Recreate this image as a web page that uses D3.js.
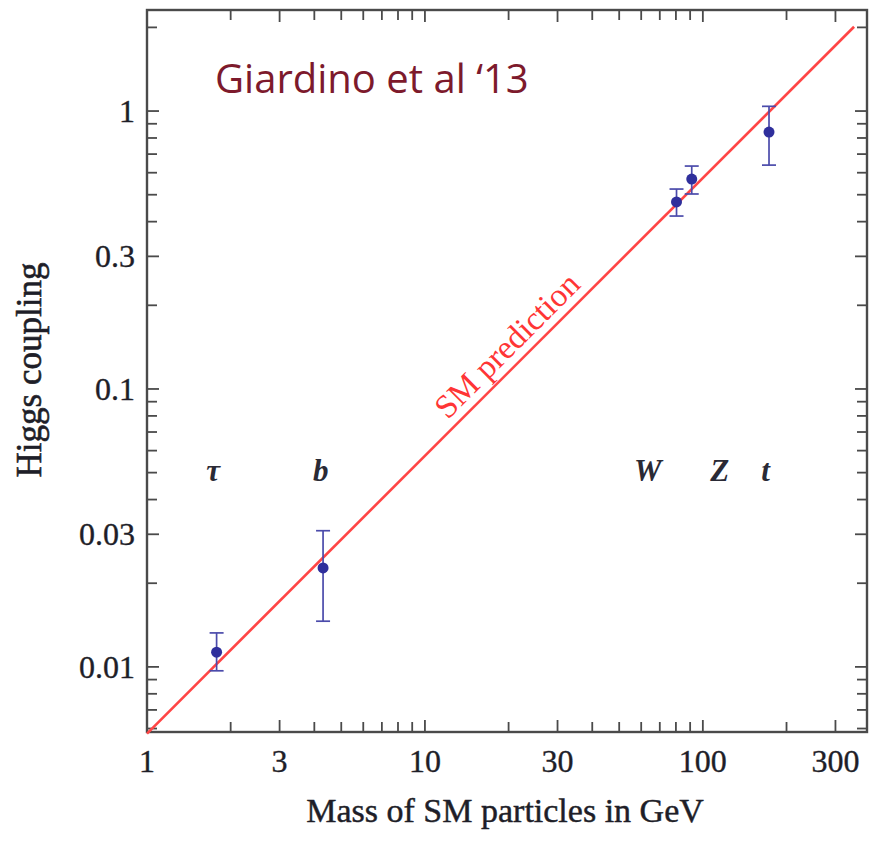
<!DOCTYPE html>
<html><head><meta charset="utf-8">
<script src="https://cdn.jsdelivr.net/npm/d3@7"></script>
<style>body{margin:0;background:#fff;} svg{display:block;}</style>
</head><body>
<script>
// ---- data ----
const particles = ["τ", "b", "W", "Z", "t"];
const masses = [1.78, 4.3, 80.4, 91.2, 173];
const coupling = [0.0113, 0.0227, 0.471, 0.569, 0.840];
const errLow = [0.00968, 0.0146, 0.419, 0.503, 0.639];
const errHigh = [0.01325, 0.0309, 0.524, 0.634, 1.04];
const labelMass = [1.73, 4.22, 63.4, 115, 168];
const labelCoupling = 0.0467;
const smMass = [1, 350];
const smCoupling = [0.00575, 2.01];
const xTickLabels = [1, 3, 10, 30, 100, 300];
const yTickLabels = [0.01, 0.03, 0.1, 0.3, 1];
const xDomain = [1, 389.6];
const yDomain = [0.00583, 2.31];

const W = 874, H = 843;
const m = {left:147, right:7, top:10, bottom:111};
const svg = d3.select("body").append("svg").attr("width", W).attr("height", H);

const x = d3.scaleLog().domain(xDomain).range([m.left, W - m.right]);
const y = d3.scaleLog().domain(yDomain).range([H - m.bottom, m.top]);
const x0 = m.left, x1 = W - m.right, y0 = H - m.bottom, y1 = m.top;

function minorTicks(dom){
  const out = [];
  for (let d = -3; d <= 3; d++) for (let k = 1; k <= 9; k++) {
    const v = +(k * Math.pow(10, d)).toPrecision(6);
    if (v >= dom[0] * 1.0001 && v <= dom[1] / 1.0001) out.push(v);
  }
  return out;
}
const xTicks = minorTicks(xDomain), yTicks = minorTicks(yDomain);
const axisCol = "#4a4a4a";
const isMajor = (v, arr) => arr.some(a => Math.abs(a - v) / a < 1e-6);

const tg = svg.append("g").attr("stroke", axisCol).attr("stroke-width", 1.8);
xTicks.forEach(v => {
  const L = isMajor(v, xTickLabels) ? 12 : 10;
  tg.append("line").attr("x1", x(v)).attr("x2", x(v)).attr("y1", y0).attr("y2", y0 - L);
  tg.append("line").attr("x1", x(v)).attr("x2", x(v)).attr("y1", y1).attr("y2", y1 + L);
});
yTicks.forEach(v => {
  const L = isMajor(v, yTickLabels) ? 12 : 10;
  tg.append("line").attr("y1", y(v)).attr("y2", y(v)).attr("x1", x0).attr("x2", x0 + L);
  tg.append("line").attr("y1", y(v)).attr("y2", y(v)).attr("x1", x1).attr("x2", x1 - L);
});

// frame
svg.append("rect").attr("x", x0).attr("y", y1).attr("width", x1 - x0).attr("height", y0 - y1)
  .attr("fill", "none").attr("stroke", axisCol).attr("stroke-width", 2.4);

const serif = "'Liberation Serif','DejaVu Serif',serif";
const textCol = "#1e1e28";
// tick labels
svg.append("g").selectAll("text").data(xTickLabels).join("text")
  .attr("x", d => x(d)).attr("y", 772).attr("text-anchor", "middle")
  .attr("font-family", serif).attr("font-size", 32).attr("fill", textCol)
  .attr("stroke", textCol).attr("stroke-width", 0.35)
  .text(d => d);
svg.append("g").selectAll("text").data(yTickLabels).join("text")
  .attr("x", 135).attr("y", d => y(d)).attr("dy", "0.34em").attr("text-anchor", "end")
  .attr("font-family", serif).attr("font-size", 32).attr("fill", textCol)
  .attr("stroke", textCol).attr("stroke-width", 0.35)
  .text(d => d);

// axis titles
svg.append("text").attr("x", 505).attr("y", 822).attr("text-anchor", "middle")
  .attr("font-family", serif).attr("font-size", 34).attr("fill", textCol)
  .attr("stroke", textCol).attr("stroke-width", 0.45)
  .text("Mass of SM particles in GeV");
svg.append("text").attr("transform", "translate(41,370) rotate(-90)").attr("text-anchor", "middle")
  .attr("font-family", serif).attr("font-size", 35).attr("fill", textCol)
  .attr("stroke", textCol).attr("stroke-width", 0.6)
  .text("Higgs coupling");

// SM line
const smData = smMass.map((mm, i) => [mm, smCoupling[i]]);
svg.append("path").datum(smData)
  .attr("d", d3.line().x(d => x(d[0])).y(d => y(d[1])))
  .attr("stroke", "#ff4545").attr("stroke-width", 2.6).attr("fill", "none");
const ang = Math.atan2(y(smCoupling[1]) - y(smCoupling[0]), x(smMass[1]) - x(smMass[0])) * 180 / Math.PI;
const tm = 22.2, tc = smCoupling[0] * Math.pow(tm / smMass[0], Math.log(smCoupling[1]/smCoupling[0]) / Math.log(smMass[1]/smMass[0]));
svg.append("text").attr("transform", `translate(${x(tm)},${y(tc)}) rotate(${ang})`)
  .attr("y", -9).attr("text-anchor", "middle")
  .attr("font-family", serif).attr("font-size", 33).attr("fill", "#ff3535")
  .text("SM prediction");

// title
svg.append("text").attr("x", 215).attr("y", 93)
  .attr("font-family", "'Open Sans','Noto Sans',sans-serif").attr("font-size", 40).attr("fill", "#7d1a2c")
  .text("Giardino et al \u201813");

// particle labels
svg.append("g").selectAll("text").data(particles).join("text")
  .attr("x", (d, i) => x(labelMass[i])).attr("y", y(labelCoupling)).attr("text-anchor", "middle")
  .attr("font-family", serif).attr("font-style", "italic").attr("font-weight", "bold")
  .attr("font-size", 31).attr("fill", "#2a2a35")
  .text(d => d);

// error bars
const eg = svg.append("g").attr("stroke", "#4b4bab").attr("stroke-width", 1.7);
masses.forEach((mm, i) => {
  const cx = x(mm);
  eg.append("line").attr("x1", cx).attr("x2", cx).attr("y1", y(errLow[i])).attr("y2", y(errHigh[i]));
  eg.append("line").attr("x1", cx - 7).attr("x2", cx + 7).attr("y1", y(errLow[i])).attr("y2", y(errLow[i]));
  eg.append("line").attr("x1", cx - 7).attr("x2", cx + 7).attr("y1", y(errHigh[i])).attr("y2", y(errHigh[i]));
});
svg.append("g").selectAll("circle").data(masses).join("circle")
  .attr("cx", d => x(d)).attr("cy", (d, i) => y(coupling[i])).attr("r", 5.5)
  .attr("fill", "#2f2f9c");
</script>
</body></html>
